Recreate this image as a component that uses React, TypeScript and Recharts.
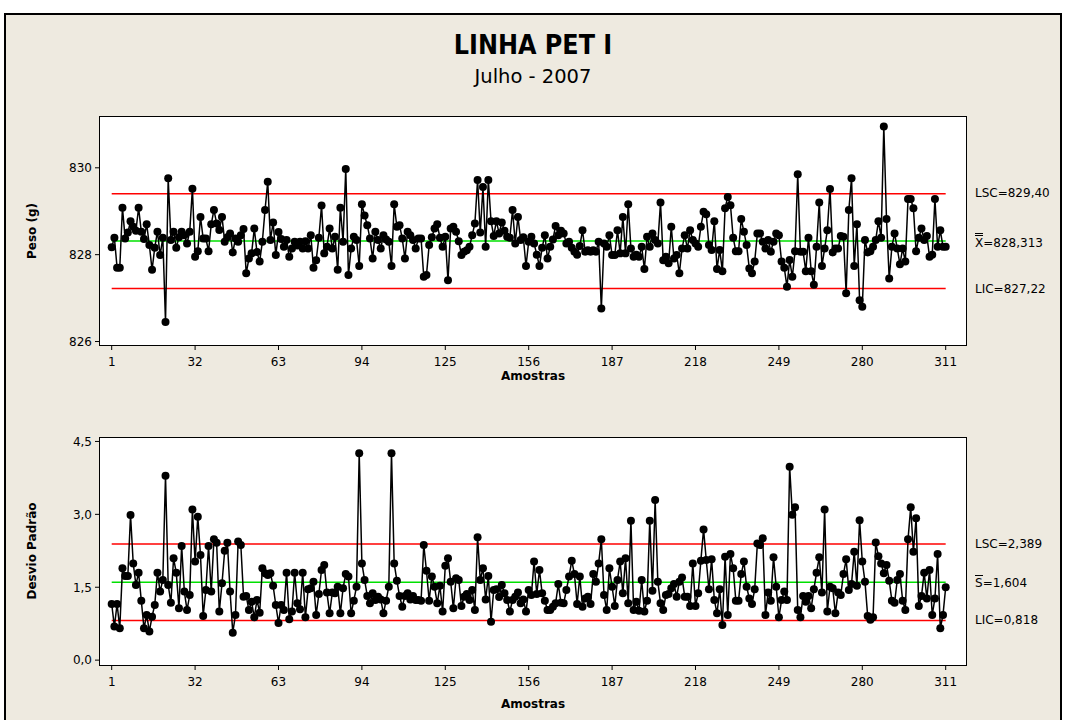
import React from 'react';
import { LineChart, Line, XAxis, YAxis, ReferenceLine } from 'recharts';

// ---- data ----
const pesoValues: number[] = [
  828.17, 828.39, 827.70, 827.70, 829.08, 828.37, 828.51, 828.77, 828.64, 828.55,
  829.08, 828.53, 828.36, 828.70, 828.22, 827.65, 828.16, 828.53, 827.99, 828.39,
  826.45, 829.76, 828.34, 828.53, 828.16, 828.40, 828.53, 828.45, 828.26, 828.53,
  829.52, 827.95, 828.08, 828.87, 828.37, 828.37, 828.08, 828.70, 829.03, 828.72,
  828.57, 828.87, 828.30, 828.40, 828.49, 828.05, 828.37, 828.30, 828.45, 828.59,
  827.57, 827.91, 828.03, 828.60, 828.06, 827.84, 828.30, 829.03, 829.68, 828.34,
  828.74, 827.99, 828.52, 828.36, 828.18, 828.34, 827.95, 828.14, 828.30, 828.21,
  828.30, 828.14, 828.31, 828.14, 828.45, 827.70, 827.87, 828.39, 829.13, 828.03,
  828.18, 828.60, 828.14, 828.41, 827.65, 829.08, 828.30, 829.97, 827.53, 828.14,
  828.41, 828.34, 827.74, 829.16, 828.90, 828.68, 828.37, 827.91, 828.53, 828.34,
  828.14, 828.45, 828.35, 828.30, 827.74, 829.16, 828.64, 828.68, 828.37, 827.91,
  828.53, 828.45, 828.34, 828.14, 828.37, 828.37, 827.49, 827.53, 828.22, 828.40,
  828.60, 828.70, 828.39, 828.18, 828.41, 827.41, 828.60, 828.64, 828.53, 828.31,
  827.99, 828.07, 828.10, 828.18, 828.45, 828.72, 829.72, 828.51, 829.56, 828.18,
  829.72, 828.77, 828.43, 828.77, 828.49, 828.74, 828.55, 828.41, 828.39, 829.03,
  828.26, 828.87, 828.34, 828.40, 827.74, 828.30, 828.41, 828.26, 828.00, 827.74,
  828.16, 828.45, 827.91, 828.18, 828.35, 828.66, 828.45, 828.55, 828.49, 828.26,
  828.30, 828.16, 828.07, 828.00, 828.20, 828.56, 828.07, 828.10, 828.07, 828.10,
  828.07, 828.30, 826.76, 828.26, 828.18, 828.45, 827.99, 827.99, 828.56, 828.03,
  828.87, 828.03, 829.16, 828.14, 827.95, 828.00, 827.95, 828.18, 827.67, 828.41,
  828.18, 828.49, 828.34, 828.26, 829.20, 827.87, 827.95, 827.80, 828.64, 827.91,
  827.99, 827.57, 828.14, 828.45, 828.14, 828.56, 828.34, 828.26, 828.18, 828.64,
  828.99, 828.93, 828.22, 828.11, 828.77, 827.67, 828.11, 827.62, 829.07, 829.33,
  829.14, 828.39, 828.08, 828.08, 828.82, 828.53, 828.22, 827.68, 827.57, 827.84,
  828.49, 828.49, 828.30, 828.14, 828.34, 828.07, 828.30, 828.49, 828.45, 827.84,
  827.70, 827.26, 827.88, 827.49, 828.08, 829.85, 828.07, 828.07, 827.62, 828.39,
  827.62, 827.31, 828.18, 829.20, 827.74, 828.14, 828.56, 829.51, 828.05, 828.14,
  828.14, 828.43, 828.41, 827.11, 829.03, 829.76, 827.74, 828.70, 826.95, 826.80,
  828.34, 828.05, 828.08, 828.18, 828.34, 828.77, 828.39, 830.95, 828.82, 827.45,
  828.18, 828.49, 828.14, 827.78, 828.14, 827.84, 829.28, 829.28, 829.07, 828.08,
  828.39, 828.60, 828.34, 828.43, 827.95, 828.00, 829.28, 828.18, 828.56, 828.18,
  828.18,
];

const desvioValues: number[] = [
  1.155, 0.69, 1.155, 0.655, 1.89, 1.73, 1.73, 2.987, 1.99, 1.546,
  1.80, 1.224, 0.655, 0.93, 0.59, 0.895, 1.135, 1.80, 1.41, 1.65,
  3.796, 1.546, 1.18, 2.096, 1.80, 1.066, 2.35, 1.41, 1.03, 1.34,
  3.10, 2.03, 2.95, 2.164, 0.91, 1.443, 2.35, 1.41, 2.485, 2.416,
  1.0, 1.58, 2.25, 2.416, 1.41, 0.566, 0.93, 2.44, 2.37, 1.306,
  1.32, 1.03, 1.2, 0.88, 1.237, 0.977, 1.89, 1.786, 1.75, 1.786,
  1.53, 1.135, 0.765, 1.135, 1.03, 1.80, 0.84, 1.0, 1.80, 1.17,
  1.045, 1.80, 0.88, 1.457, 1.48, 1.615, 0.93, 1.36, 1.855, 1.96,
  1.39, 0.963, 1.39, 1.375, 1.51, 0.963, 1.48, 1.77, 1.72, 0.963,
  1.224, 1.51, 4.256, 1.99, 1.65, 1.32, 1.17, 1.375, 1.237, 1.306,
  1.25, 0.963, 1.224, 1.51, 4.256, 1.99, 1.635, 1.32, 1.1, 1.32,
  1.375, 1.25, 1.32, 1.237, 1.237, 1.224, 2.37, 1.84, 1.224, 1.72,
  1.51, 1.17, 1.53, 1.0, 1.94, 2.096, 1.615, 1.066, 1.684, 1.65,
  1.115, 1.306, 1.36, 1.237, 1.443, 1.03, 2.53, 1.65, 1.89, 1.25,
  1.73, 0.79, 1.443, 1.457, 1.30, 1.546, 1.375, 1.237, 1.0, 1.237,
  1.306, 1.39, 1.17, 1.25, 1.0, 1.443, 1.34, 2.03, 1.36, 1.855,
  1.375, 1.224, 1.03, 1.03, 1.10, 1.17, 1.566, 1.18, 1.17, 1.443,
  1.72, 2.047, 1.77, 1.155, 1.72, 1.10, 1.27, 1.306, 1.155, 1.77,
  1.615, 1.99, 2.485, 1.34, 1.03, 1.89, 1.51, 1.115, 1.65, 2.03,
  1.375, 2.096, 1.17, 2.87, 1.03, 1.2, 1.017, 1.65, 1.0, 1.224,
  2.87, 1.43, 3.296, 1.615, 1.17, 1.03, 1.34, 1.36, 1.48, 1.566,
  1.306, 1.615, 1.70, 1.306, 1.306, 1.115, 1.99, 1.115, 1.375, 2.047,
  2.69, 2.06, 1.457, 2.074, 1.237, 0.963, 1.457, 0.723, 2.13, 0.93,
  2.185, 1.89, 1.224, 1.224, 1.77, 2.03, 1.51, 1.27, 1.155, 1.457,
  2.40, 2.37, 2.51, 0.93, 1.39, 1.224, 2.116, 1.51, 0.88, 1.237,
  1.41, 1.237, 3.98, 2.99, 3.145, 1.03, 0.88, 1.32, 1.20, 1.32,
  1.066, 1.457, 1.80, 2.116, 1.39, 3.10, 1.0, 1.51, 1.48, 0.963,
  1.39, 1.34, 1.77, 2.074, 1.443, 1.566, 2.23, 1.53, 2.88, 2.03,
  1.615, 0.91, 0.83, 0.88, 2.42, 2.14, 1.99, 1.786, 1.96, 1.635,
  1.224, 1.18, 1.65, 1.77, 1.224, 1.03, 2.485, 3.145, 2.23, 2.92,
  1.115, 1.32, 1.80, 1.27, 1.855, 0.93, 1.27, 2.185, 0.655, 0.93,
  1.50,
];

const amostras: number[] = pesoValues.map((_, i) => i + 1);
const xTicks: number[] = [1, 32, 63, 94, 125, 156, 187, 218, 249, 280, 311];
const pesoTicks: number[] = [826, 828, 830];
const desvioTicks: number[] = [0, 1.5, 3, 4.5];

const pesoLSC = 829.40;
const pesoCenter = 828.313;
const pesoLIC = 827.22;
const desvioLSC = 2.389;
const desvioCenter = 1.604;
const desvioLIC = 0.818;

const pesoData = amostras.map((a, i) => ({ amostra: a, peso: pesoValues[i] }));
const desvioData = amostras.map((a, i) => ({ amostra: a, desvio: desvioValues[i] }));

const FONT = '"DejaVu Sans", Verdana, sans-serif';
const BG = '#EEEAE0';
const tickStyle = { fill: '#000', fontSize: 12, fontFamily: FONT };

const abs = (left: number, top: number, extra: React.CSSProperties = {}): React.CSSProperties => ({
  position: 'absolute', left, top, ...extra,
});

const Label = ({ x, y, children, style }: { x: number; y: number; children: React.ReactNode; style?: React.CSSProperties }) => (
  <div style={{ position: 'absolute', left: x, top: y, transform: 'translate(0,-50%)', whiteSpace: 'nowrap', fontFamily: FONT, fontSize: 12, lineHeight: 1, color: '#000', ...style }}>
    {children}
  </div>
);

const Centered = ({ x, y, children, style }: { x: number; y: number; children: React.ReactNode; style?: React.CSSProperties }) => (
  <div style={{ position: 'absolute', left: x, top: y, transform: 'translate(-50%,-50%)', whiteSpace: 'nowrap', fontFamily: FONT, lineHeight: 1, color: '#000', ...style }}>
    {children}
  </div>
);

const seg = (y: number) => [{ x: 1, y }, { x: 311, y }];

const fmtComma = (v: number) => v.toFixed(1).replace('.', ',');

export default function App() {
  return (
    <div style={{ position: 'absolute', left: 0, top: 0, width: 1066, height: 720, background: '#fff', overflow: 'hidden' }}>
      <div style={abs(4, 13, { width: 1058, height: 720, background: BG, border: '2px solid #000', boxSizing: 'border-box' })} />

      <Centered x={533} y={45} style={{ fontSize: 26, fontWeight: 'bold', transform: 'translate(-50%,-50%) scaleX(0.92)' }}>LINHA PET I</Centered>
      <Centered x={533} y={77} style={{ fontSize: 19.5 }}>Julho - 2007</Centered>

      {/* plot boxes */}
      <div style={abs(99, 116, { width: 868, height: 230, background: '#fff', border: '1px solid #000', boxSizing: 'border-box' })} />
      <div style={abs(99, 437, { width: 868, height: 229, background: '#fff', border: '1px solid #000', boxSizing: 'border-box' })} />

      {/* top chart */}
      <div style={abs(0, 0)}>
        <LineChart width={1066} height={400} data={pesoData} margin={{ top: 117, right: 100, left: 40, bottom: 25 }}>
          <XAxis dataKey="amostra" type="number" domain={[-3.35, 318.55]} ticks={xTicks} allowDataOverflow
            axisLine={false} tickLine={{ stroke: '#000' }} tickSize={5} tickMargin={7} tick={tickStyle} height={30} interval={0} />
          <YAxis type="number" domain={[825.92, 831.17]} ticks={pesoTicks} allowDataOverflow
            axisLine={false} tickLine={{ stroke: '#000' }} tickSize={5} tickMargin={3} tick={tickStyle} width={60} interval={0} />
          <ReferenceLine segment={seg(pesoLSC)} stroke="#ff0000" strokeWidth={1.5} />
          <ReferenceLine segment={seg(pesoLIC)} stroke="#ff0000" strokeWidth={1.5} />
          <ReferenceLine segment={seg(pesoCenter)} stroke="#00e000" strokeWidth={1.5} />
          <Line type="linear" dataKey="peso" stroke="#000" strokeWidth={1.5} isAnimationActive={false}
            dot={{ r: 4, fill: '#000', stroke: 'none' }} activeDot={false} />
        </LineChart>
      </div>

      {/* bottom chart */}
      <div style={abs(0, 400)}>
        <LineChart width={1066} height={320} data={desvioData} margin={{ top: 38, right: 100, left: 40, bottom: 25 }}>
          <XAxis dataKey="amostra" type="number" domain={[-3.35, 318.55]} ticks={xTicks} allowDataOverflow
            axisLine={false} tickLine={{ stroke: '#000' }} tickSize={5} tickMargin={7} tick={tickStyle} height={30} interval={0} />
          <YAxis type="number" domain={[-0.10, 4.571]} ticks={desvioTicks} allowDataOverflow tickFormatter={fmtComma}
            axisLine={false} tickLine={{ stroke: '#000' }} tickSize={5} tickMargin={3} tick={tickStyle} width={60} interval={0} />
          <ReferenceLine segment={seg(desvioLSC)} stroke="#ff0000" strokeWidth={1.5} />
          <ReferenceLine segment={seg(desvioLIC)} stroke="#ff0000" strokeWidth={1.5} />
          <ReferenceLine segment={seg(desvioCenter)} stroke="#00e000" strokeWidth={1.5} />
          <Line type="linear" dataKey="desvio" stroke="#000" strokeWidth={1.5} isAnimationActive={false}
            dot={{ r: 4, fill: '#000', stroke: 'none' }} activeDot={false} />
        </LineChart>
      </div>

      {/* axis titles */}
      <Centered x={32} y={231} style={{ fontSize: 12, fontWeight: 'bold', transform: 'translate(-50%,-50%) rotate(-90deg)' }}>Peso (g)</Centered>
      <Centered x={533} y={376} style={{ fontSize: 12, fontWeight: 'bold' }}>Amostras</Centered>
      <Centered x={32} y={551} style={{ fontSize: 12, fontWeight: 'bold', transform: 'translate(-50%,-50%) rotate(-90deg)' }}>Desvio Padrão</Centered>
      <Centered x={533} y={704} style={{ fontSize: 12, fontWeight: 'bold' }}>Amostras</Centered>

      {/* control limit labels */}
      <Label x={975} y={193}>LSC=829,40</Label>
      <Label x={975} y={241}><span style={{ display: 'inline-block', borderTop: '3px double #000', paddingTop: 1, lineHeight: 1 }}>X</span>=828,313</Label>
      <Label x={975} y={289}>LIC=827,22</Label>
      <Label x={975} y={544}>LSC=2,389</Label>
      <Label x={975} y={582}><span style={{ display: 'inline-block', borderTop: '1px solid #000', paddingTop: 1, lineHeight: 1 }}>S</span>=1,604</Label>
      <Label x={975} y={620}>LIC=0,818</Label>
    </div>
  );
}
